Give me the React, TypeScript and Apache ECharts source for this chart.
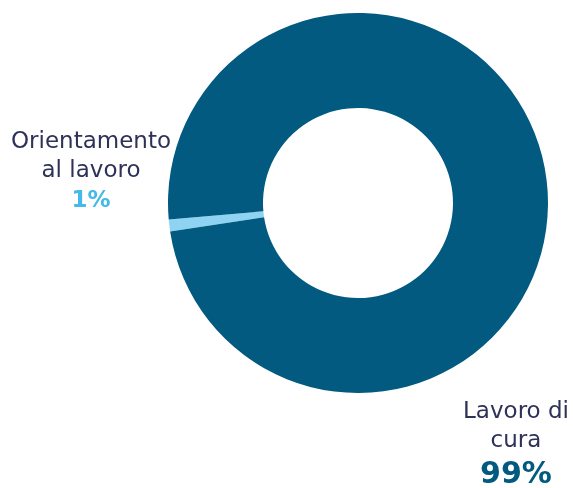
import React, { useEffect, useRef } from "react";
import * as echarts from "echarts";

const categories = ["Orientamento\nal lavoro", "Lavoro di\ncura"];
const values = [1, 99];
const percentLabels = ["1%", "99%"];

export default function App() {
  const ref = useRef<HTMLDivElement>(null);
  useEffect(() => {
    if (!ref.current) return;
    const chart = echarts.init(ref.current, undefined, { renderer: "svg" });
    const sliceColors = ["#8ED4F2", "#025A80"];
    const pctColors = ["#45B9E8", "#025A80"];
    const labelPos = [
      { x: 91, y: 170 },
      { x: 516, y: 443 },
    ];
    chart.setOption({
      animation: false,
      series: [
        {
          type: "pie",
          center: [358, 203],
          radius: [95, 190],
          startAngle: 188.6,
          clockwise: true,
          avoidLabelOverlap: false,
          labelLine: { show: false },
          itemStyle: { borderWidth: 0 },
          emphasis: { disabled: true },
          data: categories.map((c, i) => ({
            name: c,
            value: values[i],
            itemStyle: { color: sliceColors[i] },
            label: {
              show: true,
              position: "outside",
              formatter: () => `{n|${c}}\n{p${i}|${percentLabels[i]}}`,
              rich: {
                n: {
                  fontFamily: "DejaVu Sans",
                  fontSize: 23,
                  color: "#2E3158",
                  lineHeight: 29,
                  align: "center",
                },
                ["p" + i]: {
                  fontFamily: "DejaVu Sans",
                  fontSize: i === 0 ? 23 : 30,
                  fontWeight: "bold",
                  color: pctColors[i],
                  lineHeight: i === 0 ? 31 : 37,
                  align: "center",
                },
              },
            },
          })),
          labelLayout: (params: any) => ({
            x: labelPos[params.dataIndex].x,
            y: labelPos[params.dataIndex].y,
            align: "center",
            verticalAlign: "middle",
          }),
        },
      ],
    });
    return () => chart.dispose();
  }, []);
  return (
    <div
      ref={ref}
      style={{ position: "fixed", left: 0, top: 0, width: 573, height: 488 }}
    />
  );
}
